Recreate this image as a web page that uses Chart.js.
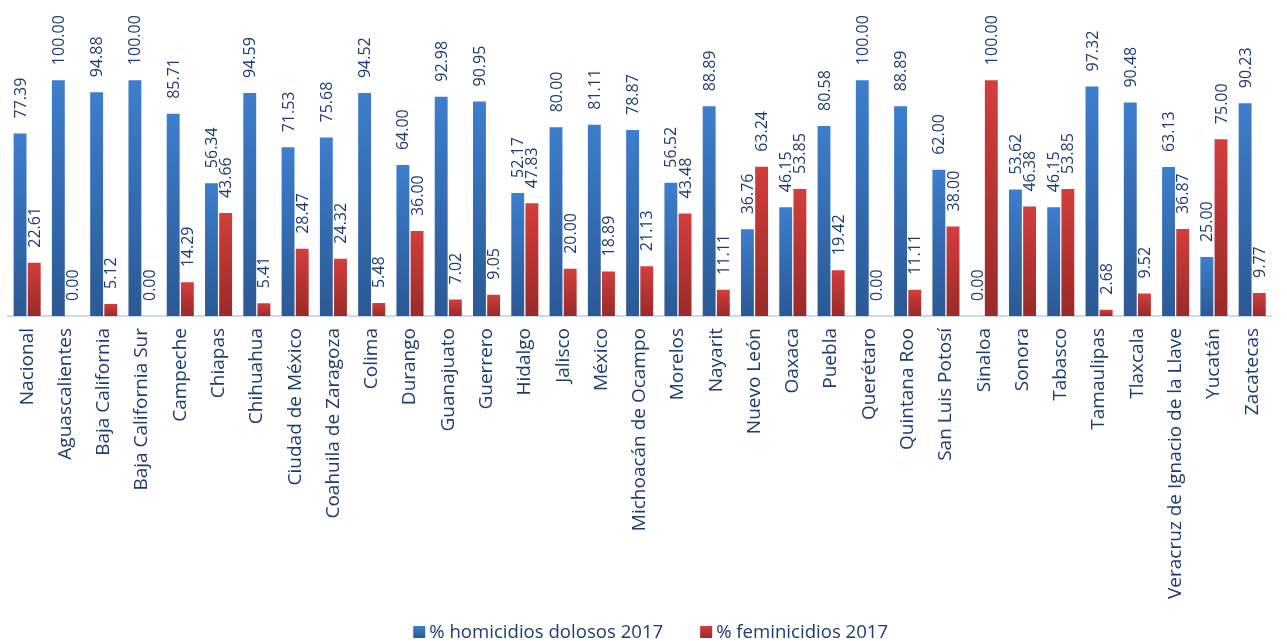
<!DOCTYPE html>
<html>
<head>
<meta charset="utf-8">
<script src="https://cdn.jsdelivr.net/npm/chart.js@4"></script>
<style>
  html, body { margin: 0; padding: 0; background: #fff; }
  #wrap { width: 1287px; height: 641px; }
</style>
</head>
<body>
<div id="wrap"><canvas id="myChart"></canvas></div>
<script>
const estados = [
  "Nacional", "Aguascalientes", "Baja California", "Baja California Sur", "Campeche",
  "Chiapas", "Chihuahua", "Ciudad de México", "Coahuila de Zaragoza", "Colima",
  "Durango", "Guanajuato", "Guerrero", "Hidalgo", "Jalisco", "México",
  "Michoacán de Ocampo", "Morelos", "Nayarit", "Nuevo León", "Oaxaca", "Puebla",
  "Querétaro", "Quintana Roo", "San Luis Potosí", "Sinaloa", "Sonora", "Tabasco",
  "Tamaulipas", "Tlaxcala", "Veracruz de Ignacio de la Llave", "Yucatán", "Zacatecas"
];

const homicidios = [
  77.39, 100.00, 94.88, 100.00, 85.71, 56.34, 94.59, 71.53, 75.68, 94.52,
  64.00, 92.98, 90.95, 52.17, 80.00, 81.11, 78.87, 56.52, 88.89, 36.76,
  46.15, 80.58, 100.00, 88.89, 62.00, 0.00, 53.62, 46.15, 97.32, 90.48,
  63.13, 25.00, 90.23
];

const feminicidios = [
  22.61, 0.00, 5.12, 0.00, 14.29, 43.66, 5.41, 28.47, 24.32, 5.48,
  36.00, 7.02, 9.05, 47.83, 20.00, 18.89, 21.13, 43.48, 11.11, 63.24,
  53.85, 19.42, 0.00, 11.11, 38.00, 100.00, 46.38, 53.85, 2.68, 9.52,
  36.87, 75.00, 9.77
];

const textColor = "#1F3B6F";
const blue = ["#3D7ECD", "#2B5994"];
const red = ["#D33E3C", "#982B2A"];

// gradient per bar, lighter on top
function barGradient(top, bottom) {
  return function (context) {
    const chart = context.chart;
    const y = chart.scales.y;
    if (!y || context.type !== "data") return bottom;
    const y0 = y.getPixelForValue(0);
    const y1 = y.getPixelForValue(context.raw);
    if (!isFinite(y0) || !isFinite(y1) || y0 - y1 < 1) return bottom;
    const g = chart.ctx.createLinearGradient(0, y1, 0, y0);
    g.addColorStop(0, top);
    g.addColorStop(1, bottom);
    return g;
  };
}

const valueLabels = {
  id: "valueLabels",
  afterDatasetsDraw(chart) {
    const ctx = chart.ctx;
    ctx.save();
    ctx.font = "16px 'Open Sans'";
    ctx.fillStyle = textColor;
    ctx.textAlign = "left";
    ctx.textBaseline = "middle";
    chart.data.datasets.forEach((ds, i) => {
      const meta = chart.getDatasetMeta(i);
      meta.data.forEach((bar, j) => {
        ctx.save();
        ctx.translate(bar.x, bar.y - 15);
        ctx.rotate(-Math.PI / 2);
        ctx.fillText(ds.data[j].toFixed(2), 0, 1);
        ctx.restore();
      });
    });
    ctx.restore();
  }
};

// legend at the bottom, excel style (small square + label)
const bottomLegend = {
  id: "bottomLegend",
  afterDraw(chart) {
    const ctx = chart.ctx;
    const items = chart.data.datasets.map((ds, i) => ({ text: ds.label, col: i == 0 ? blue : red }));
    ctx.save();
    ctx.font = "18.6px 'Open Sans'";
    ctx.textBaseline = "middle";
    ctx.textAlign = "left";
    const gap = 37;
    let total = 0;
    items.forEach((it) => {
      it.w = 16 + ctx.measureText(it.text).width;
      total += it.w;
    });
    total += gap * (items.length - 1);
    let x = (chart.chartArea.left + chart.chartArea.right) / 2 - total / 2 + 11;
    const y = 632;
    items.forEach((it) => {
      const g = ctx.createLinearGradient(0, y - 6, 0, y + 6);
      g.addColorStop(0, it.col[0]);
      g.addColorStop(1, it.col[1]);
      ctx.fillStyle = g;
      ctx.fillRect(x, y - 6, 12, 12);
      ctx.fillStyle = textColor;
      ctx.fillText(it.text, x + 16, y + 1);
      x += it.w + gap;
    });
    ctx.restore();
  }
};

const config = {
  type: "bar",
  data: {
    labels: estados,
    datasets: [{
        label: "% homicidios dolosos 2017",
        data: homicidios,
        backgroundColor: barGradient(blue[0], blue[1]),
        categoryPercentage: 0.74,
        barPercentage: 0.91,
      },
      {
        label: "% feminicidios 2017",
        data: feminicidios,
        backgroundColor: barGradient(red[0], red[1]),
        categoryPercentage: 0.74,
        barPercentage: 0.91,
      },
    ],
  },
  options: {
    responsive: true,
    maintainAspectRatio: false,
    animation: false,
    layout: {
      padding: { top: 33, left: 8, right: 0, bottom: 0 }
    },
    plugins: {
      tooltip: { enabled: false },
      legend: { display: false },
    },
    scales: {
      x: {
        grid: { display: false, drawTicks: false },
        border: { display: true, color: "#C9D9EE", width: 2 },
        ticks: {
          color: textColor,
          font: { family: "'Open Sans'", size: 19 },
          minRotation: 90,
          maxRotation: 90,
          autoSkip: false,
          padding: 12,
        },
        afterFit(scale) {
          scale.height = 325;
        },
      },
      y: {
        display: false,
        min: 0,
        max: 120,
      },
    },
  },
  plugins: [valueLabels, bottomLegend],
};

new Chart(document.getElementById("myChart"), config);
</script>
</body>
</html>
